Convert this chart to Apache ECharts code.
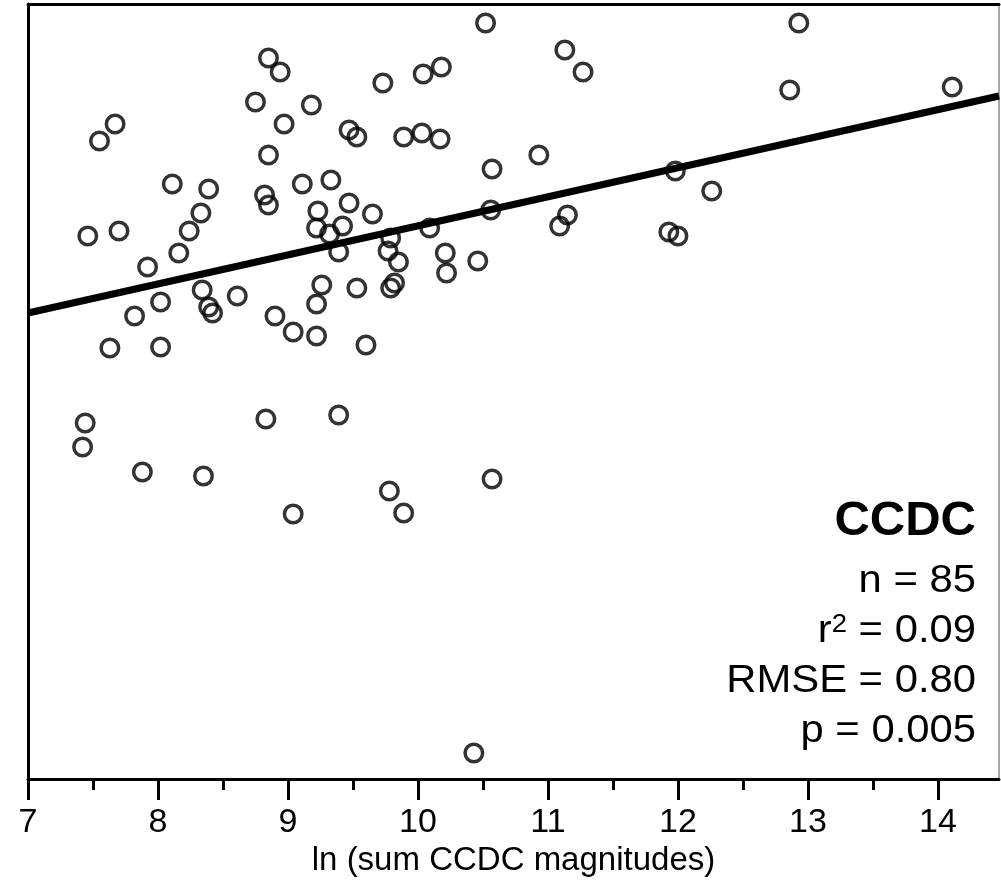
<!DOCTYPE html>
<html>
<head>
<meta charset="utf-8">
<script src="https://cdn.jsdelivr.net/npm/echarts@6/dist/echarts.min.js"></script>
<style>
  html, body { margin: 0; padding: 0; background: #fff; }
  #plot { width: 1001px; height: 884px; }
</style>
</head>
<body>
<div id="plot"></div>
<script>
const xValues = [
  10.52, 12.93, 11.13, 8.85, 8.94, 10.18, 10.04, 11.27, 9.73, 12.86,
  14.11, 8.75, 9.18, 7.67, 7.55, 8.97, 9.47, 9.53, 9.89, 10.03,
  10.17, 10.93, 8.85, 10.57, 11.98, 8.11, 8.39, 9.11, 9.33, 8.82,
  8.85, 9.47, 12.26, 8.33, 9.23, 9.65, 10.56, 11.15, 7.46, 7.70,
  8.24, 9.22, 9.42, 9.32, 9.79, 10.09, 11.09, 11.93, 12.00, 8.16,
  9.39, 9.77, 10.21, 7.92, 9.85, 10.46, 10.22, 8.34, 9.26, 9.82,
  9.79, 8.02, 8.61, 9.53, 9.22, 8.39, 8.42, 7.82, 8.90, 9.04,
  9.22, 7.63, 8.02, 9.60, 7.44, 8.83, 9.39, 7.42, 7.88, 8.35,
  9.78, 10.57, 9.04, 9.89, 10.43,
];
const yValues = [
  7.56, 7.56, 7.29, 7.21, 7.07, 7.12, 7.05, 7.07, 6.96, 6.89,
  6.92, 6.77, 6.74, 6.55, 6.38, 6.55, 6.49, 6.42, 6.42, 6.46,
  6.40, 6.24, 6.24, 6.10, 6.08, 5.95, 5.90, 5.95, 5.99, 5.84,
  5.74, 5.76, 5.88, 5.66, 5.68, 5.65, 5.69, 5.64, 5.43, 5.48,
  5.48, 5.51, 5.53, 5.45, 5.41, 5.51, 5.53, 5.47, 5.43, 5.26,
  5.27, 5.28, 5.26, 5.12, 5.17, 5.18, 5.06, 4.89, 4.94, 4.96,
  4.91, 4.77, 4.83, 4.91, 4.75, 4.72, 4.66, 4.63, 4.63, 4.47,
  4.43, 4.31, 4.32, 4.34, 3.56, 3.60, 3.64, 3.32, 3.07, 3.03,
  2.88, 3.00, 2.65, 2.66, 0.26,
];
// regression line end points
const fitX = [7, 14.47];
const fitY = [4.66, 6.83];

const majorTicks = [7, 8, 9, 10, 11, 12, 13, 14];
const minorTicks = [7.5, 8.5, 9.5, 10.5, 11.5, 12.5, 13.5];
const statLines = ["n = 85", "{r|r}{s|2}{r| = 0.09}", "RMSE = 0.80", "p = 0.005"];

const font = "Liberation Sans, Arial, Helvetica, sans-serif";

const points = xValues.map((x, i) => [x, yValues[i]]);
const fit = fitX.map((x, i) => [x, fitY[i]]);

const myChart = echarts.init(document.getElementById("plot"), null, { renderer: "canvas" });

const statGraphics = statLines.map((t, i) => ({
  type: "text",
  x: 976,
  y: 582 + i * 50,
  scaleX: 1.1,
  z: 10,
  style: {
    text: t,
    align: "right",
    verticalAlign: "middle",
    fill: "#000",
    fontFamily: font,
    fontSize: 38,
    rich: {
      r: { fontFamily: font, fontSize: 38, fill: "#000" },
      s: { fontFamily: font, fontSize: 25, fill: "#000", verticalAlign: "top" },
    },
  },
}));

const option = {
  animation: false,
  backgroundColor: "#fff",
  grid: { left: 28, right: 2, top: 4, bottom: 105, show: false },
  xAxis: [
    {
      type: "value",
      position: "bottom",
      min: 7,
      max: 14.47,
      interval: 1,
      name: "ln (sum CCDC magnitudes)",
      nameLocation: "middle",
      nameGap: 64,
      nameTextStyle: { fontFamily: font, fontSize: 33, color: "#000" },
      axisLine: { show: true, onZero: false, lineStyle: { color: "#000", width: 3 } },
      axisTick: { show: true, customValues: majorTicks, length: 21, lineStyle: { color: "#000", width: 3 } },
      axisLabel: { customValues: majorTicks, margin: 27, fontFamily: font, fontSize: 34, color: "#000" },
      splitLine: { show: false },
    },
    {
      type: "value",
      position: "bottom",
      min: 7,
      max: 14.47,
      interval: 1,
      axisLine: { show: false },
      axisTick: { show: true, customValues: minorTicks, length: 11, lineStyle: { color: "#000", width: 3 } },
      axisLabel: { show: false },
      splitLine: { show: false },
    },
    {
      type: "value",
      position: "top",
      min: 7,
      max: 14.47,
      axisLine: { show: true, onZero: false, lineStyle: { color: "#000", width: 3 } },
      axisTick: { show: false },
      axisLabel: { show: false },
      splitLine: { show: false },
    },
  ],
  yAxis: [
    {
      type: "value",
      position: "left",
      min: 0,
      max: 7.75,
      axisLine: { show: true, onZero: false, lineStyle: { color: "#000", width: 3 } },
      axisTick: { show: false },
      axisLabel: { show: false },
      splitLine: { show: false },
    },
    {
      type: "value",
      position: "right",
      min: 0,
      max: 7.75,
      axisLine: { show: true, onZero: false, lineStyle: { color: "#8a8a8a", width: 1.5 } },
      axisTick: { show: false },
      axisLabel: { show: false },
      splitLine: { show: false },
    },
  ],
  graphic: [
    {
      type: "text",
      x: 976,
      y: 521,
      z: 10,
      style: {
        text: "CCDC",
        align: "right",
        verticalAlign: "middle",
        fill: "#000",
        fontFamily: font,
        fontWeight: "bold",
        fontSize: 49,
      },
    },
  ].concat(statGraphics),
  series: [
    {
      type: "line",
      data: fit,
      showSymbol: false,
      symbol: "none",
      lineStyle: { color: "#000", width: 7 },
      clip: true,
      z: 2,
    },
    {
      type: "scatter",
      data: points,
      symbol: "circle",
      symbolSize: 17.5,
      itemStyle: { color: "rgba(0,0,0,0)", borderColor: "#000", borderWidth: 3.5 },
      z: 3,
    },
  ],
};
myChart.setOption(option);
</script>
</body>
</html>
